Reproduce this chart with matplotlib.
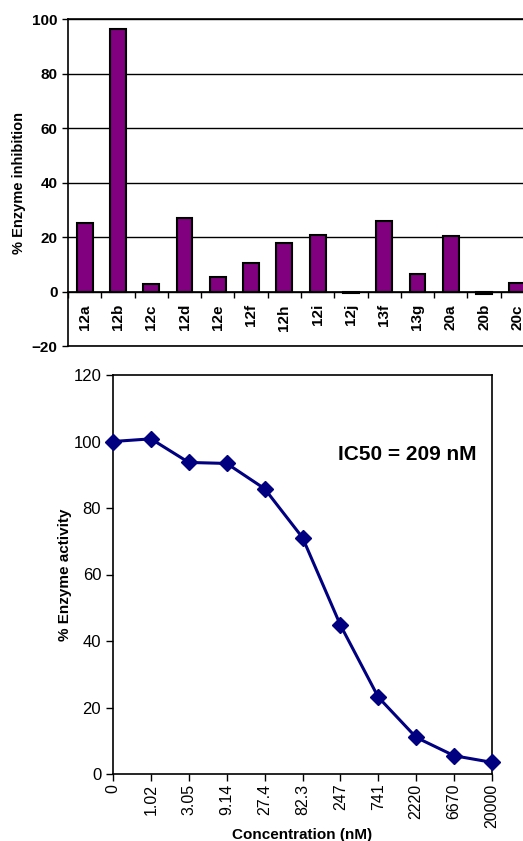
import matplotlib
matplotlib.use("Agg")
import matplotlib.pyplot as plt
import numpy as np

plt.rcParams['font.family'] = ['Liberation Sans', 'DejaVu Sans']

# ---- data ----
compounds = ['12a', '12b', '12c', '12d', '12e', '12f', '12h', '12i', '12j',
             '13f', '13g', '20a', '20b', '20c']
inhibition = [25.2, 96.3, 2.9, 26.9, 5.5, 10.5, 17.8, 20.7, -0.7,
              26.0, 6.4, 20.3, -0.8, 3.2]

conc_labels = ['0', '1.02', '3.05', '9.14', '27.4', '82.3', '247', '741',
               '2220', '6670', '20000']
activity = [100.0, 100.8, 93.7, 93.4, 85.8, 71.1, 44.8, 23.1, 11.0, 5.5, 3.5]

W, H = 523, 841
fig = plt.figure(figsize=(W / 100, H / 100), dpi=100)

def px_axes(l, t, r, b):
    return fig.add_axes([l / W, 1 - b / H, (r - l) / W, (b - t) / H])

# ---- top bar chart ----
ax1 = px_axes(68, 19, 534, 346)
x = np.arange(len(compounds))
ax1.bar(x, inhibition, width=0.48, color='#800080', edgecolor='black',
        linewidth=1.5, zorder=3)
ax1.set_xlim(-0.5, len(compounds) - 0.5)
ax1.set_ylim(-20, 100)
ax1.set_yticks([-20, 0, 20, 40, 60, 80, 100])
ax1.yaxis.grid(True, color='black', linewidth=1)
ax1.set_axisbelow(True)
ax1.set_xticks([])
for lbl in ax1.get_yticklabels():
    lbl.set_fontweight('bold')
ax1.tick_params(axis='y', labelsize=11, length=4, width=1, direction='out')
for s in ax1.spines.values():
    s.set_linewidth(1.2)
ax1.set_ylabel('% Enzyme inhibition', fontsize=10.5, fontweight='bold',
               labelpad=4)

sec = ax1.secondary_xaxis(20 / 120)
sec.set_xticks(x)
sec.set_xticklabels(compounds, rotation=90, fontweight='bold', fontsize=11)
sec.set_xticks(np.arange(len(compounds) + 1) - 0.5, minor=True)
sec.tick_params(axis='x', which='major', length=0, pad=9)
sec.tick_params(axis='x', which='minor', length=4, width=1, direction='out')
sec.spines['bottom'].set_linewidth(1.2)

# ---- bottom line chart ----
ax2 = px_axes(113, 375, 492, 774)
xc = np.arange(len(conc_labels))
ax2.plot(xc, activity, color='#000080', linewidth=2.2, marker='D',
         markersize=8.5, markerfacecolor='#000080', markeredgecolor='#000080',
         clip_on=False, zorder=3)
ax2.set_xlim(0, len(conc_labels) - 1)
ax2.set_ylim(0, 120)
ax2.set_yticks(np.arange(0, 121, 20))
ax2.set_xticks(xc)
ax2.set_xticklabels(conc_labels, rotation=90)
ax2.tick_params(axis='y', labelsize=12, length=5, width=1, direction='out')
ax2.tick_params(axis='x', labelsize=11.5, length=5, width=1, direction='out',
                pad=2)
for s in ax2.spines.values():
    s.set_linewidth(1.2)
ax2.set_ylabel('% Enzyme activity', fontsize=11, fontweight='bold', labelpad=1)
ax2.set_xlabel('Concentration (nM)', fontsize=11, fontweight='bold', labelpad=0)
ax2.text(0.96, 0.802, 'IC50 = 209 nM', transform=ax2.transAxes,
         fontsize=15, fontweight='bold', ha='right', va='center')

fig.savefig('out.png', dpi=100)
